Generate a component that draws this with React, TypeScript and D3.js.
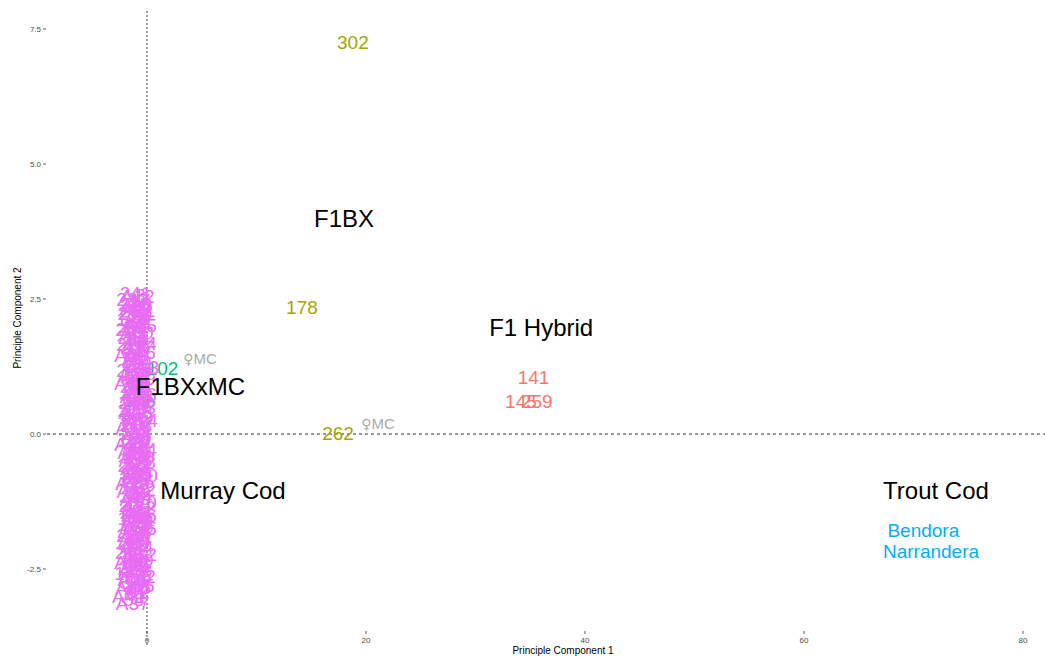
import React from "react";
import * as d3 from "d3";

const W = 1045;
const H = 657;

// Group colours (ggplot hue palette)
const groupNames = ["F1 Hybrid", "F1BX", "F1BXxMC", "Trout Cod", "Murray Cod"];
const groupColors = ["#F8766D", "#A3A500", "#00BF7D", "#00B0F6", "#E76BF3"];

// Sample labels per group: [label, PC1, PC2]
const hybridLabels = ["141", "145", "259"];
const hybridX = [35.3, 34.15, 35.6];
const hybridY = [1.06, 0.61, 0.61];

const f1bxLabels = ["302", "178", "262"];
const f1bxX = [18.8, 14.15, 17.45];
const f1bxY = [7.26, 2.35, 0.02];

const f1bxmcLabels = ["102", "105"];
const f1bxmcX = [1.42, -0.64];
const f1bxmcY = [1.22, 0.63];

const troutLabels = ["Bendora", "Narrandera"];
const troutX = [70.9, 71.6];
const troutY = [-1.78, -2.17];

const murrayLabels = [
  "241","A12","233","17","245","208","A4","A21","219","56",
  "A9","120","231","A15","88","247","A30","9","213","A2",
  "164","222","A17","72","236","A25","191","A6","251","24",
  "A33","205","137","A11","229","43","A19","253","A8","98",
  "216","A28","60","240","A1","183","227","A23","35","249",
  "A14","110","203","A31","80","238","A5","150","221","A26",
  "12","244","A10","66","210","A35","128","232","A3","47",
  "255","A20","195","225","A13","91","242","A29","5","214",
  "A7","170","230","A22","39","248","A16","104","206","A34",
  "76","235","A18","157","218","A27","20","250","A24","52",
  "211","A32","115","239","A36","84","224","A38","143","252",
  "A39","30","215","A40","61","A41","A37",
  "3","4","6","7","8","10","11","13","14","15",
  "16","18","19","21","22","23","25","26","27","28",
  "29","31","32","33","34","36","37","38","40","41",
  "42","44","45","46","48","49","50","51","53","54",
  "55","57","58","59","62","63","64","65","67","68",
  "69","70","71","73","74","75","77","78","79","81",
];
const murrayX = [
  -1.05,-0.85,-1.35,-0.65,-1.15,-0.95,-1.45,-0.75,-1.25,-0.55,
  -1.05,-1.35,-0.85,-0.65,-1.15,-1.45,-0.95,-0.75,-1.25,-1.05,
  -0.55,-1.35,-0.85,-1.15,-0.65,-1.45,-0.95,-1.25,-0.75,-1.05,
  -0.45,-1.35,-0.95,-1.15,-0.65,-0.85,-1.45,-1.05,-0.75,-1.25,
  -0.55,-0.95,-1.35,-1.15,-0.75,-0.65,-1.25,-1.05,-1.45,-0.85,
  -0.55,-1.15,-0.95,-1.35,-0.75,-1.05,-0.65,-1.25,-0.85,-1.45,
  -0.95,-0.55,-1.15,-1.35,-0.75,-1.05,-0.65,-1.25,-0.85,-1.45,
  -0.95,-0.55,-1.15,-0.75,-1.35,-1.05,-0.65,-1.25,-0.85,-0.95,
  -1.45,-0.55,-1.15,-0.75,-1.35,-1.05,-0.65,-1.25,-0.95,-0.85,
  -1.45,-0.55,-1.15,-0.75,-1.35,-1.05,-0.65,-1.25,-0.95,-0.85,
  -1.55,-0.65,-1.15,-0.85,-1.45,-0.75,-1.25,-1.05,-1.55,-0.65,
  -1.15,-1.55,-0.75,-1.35,-0.95,-1.65,-1.3,
  -0.6,-1.4,-0.8,-1.2,-0.5,-1.3,-0.7,-1.1,-0.9,-1.4,
  -0.6,-1.2,-0.8,-1.3,-0.5,-1.0,-1.4,-0.7,-1.1,-0.6,
  -1.3,-0.9,-0.5,-1.2,-0.7,-1.4,-0.8,-1.0,-0.6,-1.3,
  -0.9,-0.5,-1.2,-0.7,-1.1,-1.4,-0.8,-0.6,-1.3,-0.9,
  -1.1,-0.7,-1.2,-0.5,-0.9,-1.3,-0.6,-1.0,-1.4,-0.8,
  -0.5,-1.2,-0.7,-1.0,-1.3,-0.6,-0.9,-1.1,-0.8,-1.2,
];
const murrayY = [
  2.61,2.55,2.50,2.47,2.41,2.38,2.33,2.30,2.24,2.21,
  2.15,2.12,2.08,2.02,1.97,1.94,1.88,1.83,1.80,1.74,
  1.69,1.66,1.61,1.55,1.52,1.46,1.41,1.38,1.32,1.27,
  1.23,1.18,1.12,1.09,1.03,0.98,0.94,0.88,0.84,0.79,
  0.73,0.70,0.64,0.59,0.55,0.49,0.45,0.40,0.34,0.31,
  0.25,0.20,0.16,0.10,0.06,0.01,-0.04,-0.09,-0.13,-0.19,
  -0.23,-0.28,-0.34,-0.37,-0.43,-0.48,-0.52,-0.58,-0.62,-0.67,
  -0.73,-0.77,-0.82,-0.87,-0.91,-0.97,-1.02,-1.06,-1.12,-1.16,
  -1.21,-1.26,-1.31,-1.35,-1.41,-1.45,-1.50,-1.55,-1.60,-1.64,
  -1.70,-1.74,-1.79,-1.84,-1.88,-1.94,-1.98,-2.03,-2.09,-2.13,
  -2.18,-2.23,-2.27,-2.33,-2.38,-2.42,-2.48,-2.53,-2.58,-2.63,
  -2.69,-2.74,-2.80,-2.86,-2.93,-3.00,-3.13,
  2.58,2.44,2.27,2.18,2.05,1.91,1.77,1.63,1.49,1.35,
  1.21,1.06,0.91,0.77,0.62,0.47,0.37,0.22,0.08,-0.06,
  -0.16,-0.31,-0.45,-0.55,-0.70,-0.80,-0.94,-1.09,-1.19,-1.33,
  -1.47,-1.58,-1.72,-1.86,-1.96,-2.11,-2.25,-2.35,-2.50,-2.66,
  -2.77,-2.90,-3.05,2.35,1.99,1.58,1.15,0.67,0.28,-0.26,
  -0.75,-1.24,-1.67,-2.06,-2.45,-2.83,1.85,0.95,-0.40,-2.20,
];

// Parent annotations
const parentLabels = ["MC", "MC"];
const parentX = [4.84, 21.1];
const parentY = [1.39, 0.19];

// Group name labels
const groupLabelX = [36.0, 18.0, 3.97, 72.05, 6.94];
const groupLabelY = [1.98, 4.0, 0.89, -1.04, -1.04];

const xTicks = [0, 20, 40, 60, 80];
const yTicks = [-2.5, 0, 2.5, 5, 7.5];

const panel = { left: 47, right: 1079, top: 7, bottom: 630 };

export default function App() {
  const x = d3.scaleLinear().domain([0, 80]).range([147, 1023]);
  const y = d3.scaleLinear().domain([0, 7.5]).range([434, 29]);

  const groups = [
    { labels: hybridLabels, xs: hybridX, ys: hybridY },
    { labels: f1bxLabels, xs: f1bxX, ys: f1bxY },
    { labels: f1bxmcLabels, xs: f1bxmcX, ys: f1bxmcY },
    { labels: troutLabels, xs: troutX, ys: troutY },
    { labels: murrayLabels, xs: murrayX, ys: murrayY },
  ];

  const font = "Liberation Sans, Arial, sans-serif";

  return (
    <svg
      width={W}
      height={H}
      style={{ position: "absolute", left: 0, top: 0, background: "#fff" }}
      fontFamily={font}
    >
      <rect x={0} y={0} width={W} height={H} fill="#fff" />
      {/* reference lines */}
      <line
        x1={panel.left}
        x2={W}
        y1={y(0)}
        y2={y(0)}
        stroke="#333"
        strokeWidth={1}
        strokeDasharray="3,3"
      />
      <line
        x1={x(0)}
        x2={x(0)}
        y1={panel.top + 4}
        y2={panel.bottom + 15}
        stroke="#888"
        strokeWidth={1.6}
        strokeDasharray="2,2"
      />
      {/* sample labels */}
      {groups.map((g, gi) => (
        <g key={gi} fill={groupColors[gi]} fontSize={19} textAnchor="middle">
          {g.labels.map((lab, i) => (
            <text key={i} x={x(g.xs[i])} y={y(g.ys[i])} dy="0.36em">
              {lab}
            </text>
          ))}
        </g>
      ))}
      {/* parent annotations */}
      <g fill="#A9A9A9" fontSize={15} textAnchor="middle">
        {parentLabels.map((lab, i) => (
          <text key={i} x={x(parentX[i])} y={y(parentY[i])} dy="0.36em">
            <tspan fontFamily="DejaVu Sans" fontSize={14}>{"\u2640"}</tspan>
            <tspan>{lab}</tspan>
          </text>
        ))}
      </g>
      {/* group labels */}
      <g fill="#000" fontSize={24} textAnchor="middle">
        {groupNames.map((name, i) => (
          <text key={i} x={x(groupLabelX[i])} y={y(groupLabelY[i])} dy="0.36em">
            {name}
          </text>
        ))}
      </g>
      {/* axes */}
      <g fontSize={8} fill="#4D4D4D">
        {yTicks.map((t) => (
          <g key={t}>
            <line x1={panel.left - 4} x2={panel.left - 1} y1={y(t)} y2={y(t)} stroke="#333" strokeWidth={0.8} />
            <text x={panel.left - 6} y={y(t)} dy="0.35em" textAnchor="end">
              {t.toFixed(1)}
            </text>
          </g>
        ))}
        {xTicks.map((t) => (
          <g key={t}>
            <line x1={x(t)} x2={x(t)} y1={panel.bottom + 1} y2={panel.bottom + 4} stroke="#333" strokeWidth={0.8} />
            <text x={x(t)} y={panel.bottom + 13} textAnchor="middle">
              {t}
            </text>
          </g>
        ))}
      </g>
      <text x={563} y={654} fontSize={10} textAnchor="middle" fill="#000">
        Principle Component 1
      </text>
      <text
        transform={`translate(21,318) rotate(-90)`}
        fontSize={10}
        textAnchor="middle"
        fill="#000"
      >
        Principle Component 2
      </text>
    </svg>
  );
}
